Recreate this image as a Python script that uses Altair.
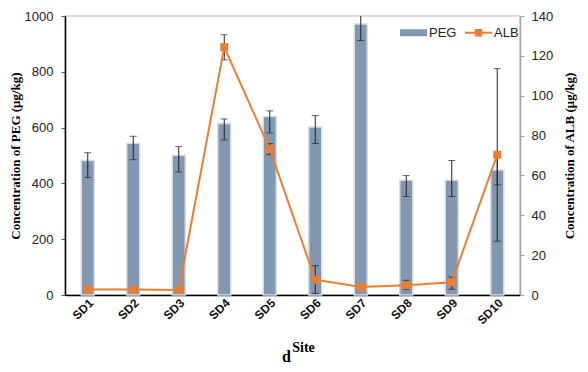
import altair as alt
import pandas as pd

sites = ["SD1", "SD2", "SD3", "SD4", "SD5", "SD6", "SD7", "SD8", "SD9", "SD10"]
peg = [482, 544, 501, 615, 640, 602, 971, 411, 411, 448]
peg_lo = [421, 485, 441, 556, 581, 543, 912, 353, 353, 395]
peg_hi = [510, 569, 532, 631, 660, 643, 1030, 428, 482, 500]
alb = [2.7, 2.7, 2.5, 124.4, 73.3, 7.7, 4.0, 4.9, 6.4, 70.4]
alb_lo = [2.7, 2.7, 2.5, 118.0, 70.4, 0.7, 4.0, 2.7, 2.9, 27.0]
alb_hi = [2.7, 2.7, 2.5, 130.6, 76.0, 14.7, 4.0, 7.4, 9.0, 113.6]
peg_ticks = [0, 200, 400, 600, 800, 1000]
alb_ticks = [0, 20, 40, 60, 80, 100, 120, 140]
series = ["PEG", "ALB"]
colors = ["#8497B0", "#ED7D31"]
legend_paths = ["M-1,-0.26H1V0.26H-1Z",
                "M-1,-0.08H1V0.08H-1Z M-0.28,-0.28H0.28V0.28H-0.28Z"]

df = pd.DataFrame({
    "site": sites, "peg": peg, "peg_lo": peg_lo, "peg_hi": peg_hi,
    "alb": alb, "alb_lo": alb_lo, "alb_hi": alb_hi,
})
df_leg = pd.DataFrame({"series": series})

base = alt.Chart(df)
x_axis = alt.Axis(labelAngle=-45, labelFont="Liberation Sans", labelFontSize=12,
                  labelFontWeight="bold", labelColor="#111", ticks=False,
                  domainColor="#000", domainWidth=1.5,
                  titleFont="Liberation Serif", titleFontSize=14,
                  titleFontWeight="bold", titleColor="#000",
                  titleX=238, titleY=45, titleBaseline="top")
x_scale = alt.Scale(paddingInner=0, paddingOuter=0)


def X():
    return alt.X("site:N", sort=sites, title="Site", axis=x_axis, scale=x_scale)


yl_scale = alt.Scale(domain=[0, 1000])
yl_axis = alt.Axis(orient="left", values=peg_ticks, grid=False,
                   format="d", labelFlush=False, labelOverlap=False,
                   domainColor="#000", domainWidth=1.5, tickColor="#555", tickSize=4,
                   labelFont="Liberation Sans", labelFontSize=13, labelColor="#222",
                   labelPadding=8,
                   title="Concentration of PEG (μg/kg)", titleFont="Liberation Serif",
                   titleFontSize=13, titleFontWeight="bold", titleColor="#000",
                   titlePadding=2)


def YL(field):
    return alt.Y(field, type="quantitative", scale=yl_scale, axis=yl_axis,
                 title="Concentration of PEG (μg/kg)")


bars = base.mark_bar(size=13, stroke="#D6DCE4", strokeWidth=1.5, color="#8497B0").encode(
    x=X(), y=YL("peg"))
peg_rule = base.mark_rule(color="#222", strokeWidth=1, clip=True).encode(
    x=X(), y=YL("peg_lo"), y2="peg_hi:Q")
peg_cap_lo = base.mark_tick(color="#222", thickness=1, size=7, clip=True).encode(
    x=X(), y=YL("peg_lo"))
peg_cap_hi = base.mark_tick(color="#222", thickness=1, size=7, clip=True).encode(
    x=X(), y=YL("peg_hi"))
left = alt.layer(bars, peg_rule, peg_cap_lo, peg_cap_hi)

yr_scale = alt.Scale(domain=[0, 140])
yr_axis = alt.Axis(orient="right", values=alb_ticks, tickCount=8, grid=False,
                   format="d", labelFlush=False, labelOverlap=False,
                   domainColor="#A6A6A6", domainWidth=1.5, tickColor="#A6A6A6", tickSize=4,
                   labelFont="Liberation Sans", labelFontSize=13, labelColor="#222",
                   labelPadding=7,
                   title="Concentration of ALB (μg/kg)", titleFont="Liberation Serif",
                   titleFontSize=13, titleFontWeight="bold", titleColor="#000",
                   titleAngle=270, titlePadding=24)


def YR(field):
    return alt.Y(field, type="quantitative", scale=yr_scale, axis=yr_axis,
                 title="Concentration of ALB (μg/kg)")


alb_rule = base.mark_rule(color="#222", strokeWidth=1).encode(
    x=X(), y=YR("alb_lo"), y2="alb_hi:Q")
alb_cap_lo = base.mark_tick(color="#222", thickness=1, size=7).encode(
    x=X(), y=YR("alb_lo"))
alb_cap_hi = base.mark_tick(color="#222", thickness=1, size=7).encode(
    x=X(), y=YR("alb_hi"))
line = base.mark_line(color="#ED7D31", strokeWidth=2).encode(x=X(), y=YR("alb"))
pts = base.mark_point(shape="square", filled=True, size=64, color="#ED7D31",
                      opacity=1).encode(x=X(), y=YR("alb"))

leg = alt.Legend(title=None, orient="none", legendX=335, legendY=3,
                 direction="horizontal", symbolSize=729,
                 symbolStrokeWidth=0, labelFont="Liberation Sans",
                 labelFontSize=13, labelColor="#222", labelOffset=2,
                 columnPadding=8, symbolOpacity=1)
legend_layer = alt.Chart(df_leg).mark_point(filled=True, clip=True, opacity=1).encode(
    x=alt.value(-200), y=alt.value(-200),
    shape=alt.Shape("series:N", scale=alt.Scale(domain=series, range=legend_paths), legend=leg),
    color=alt.Color("series:N", scale=alt.Scale(domain=series, range=colors), legend=leg),
)
right = alt.layer(alb_rule, alb_cap_lo, alb_cap_hi, line, pts, legend_layer)

chart = alt.layer(left, right).resolve_scale(y="independent").properties(
    width=455, height=279,
    autosize=alt.AutoSizeParams(type="none"),
    padding={"left": 57, "top": 8, "right": 60, "bottom": 69},
    title=alt.TitleParams("d", orient="bottom", font="Liberation Serif", fontSize=16,
                          fontWeight="bold", color="#000", anchor="middle", offset=-5,
                          dx=-6),
).configure_view(stroke="#D0D0D0", strokeWidth=1.5)

chart.save("out.html", embed_options={"renderer": "svg", "actions": False})
